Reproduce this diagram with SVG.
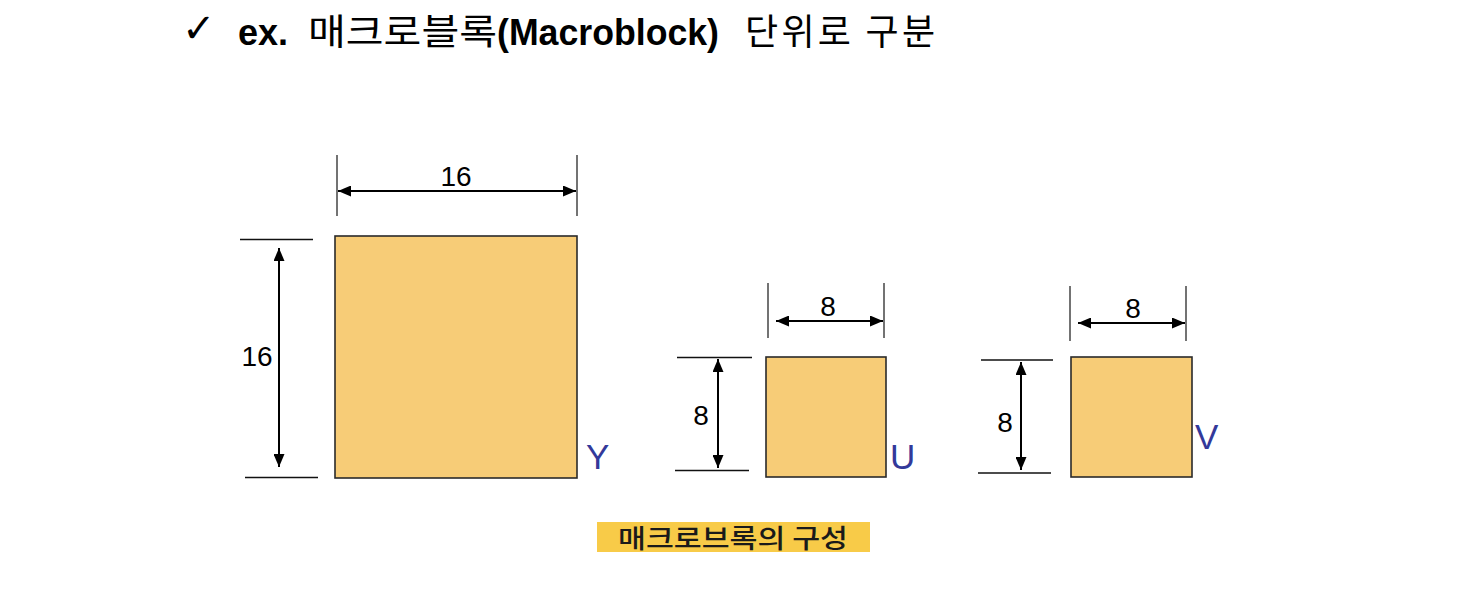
<svg xmlns="http://www.w3.org/2000/svg" width="1472" height="596" viewBox="0 0 1472 596">
<style>
.box{fill:#F7CC77;stroke:#2a2a2a;stroke-width:1.6}
.tick{stroke:#444;stroke-width:1.5;fill:none}
.ext{stroke:#111;stroke-width:1.3;fill:none}
.dim{stroke:#000;stroke-width:2;fill:none;marker-start:url(#ah);marker-end:url(#ah)}
.num{font-family:"Liberation Sans",Arial,sans-serif;font-size:28px;fill:#000;text-anchor:middle}
.lbl{font-family:"Liberation Sans",Arial,sans-serif;font-size:35px;fill:#33399A}
.ko{font-family:"Noto Sans CJK KR","Noto Sans",sans-serif}
</style>
<defs>
<marker id="ah" viewBox="0 0 13 11" refX="13" refY="5.5" markerWidth="13" markerHeight="11" markerUnits="userSpaceOnUse" orient="auto-start-reverse">
<path d="M0,0 L13,5.5 L0,11 z" fill="#000"/>
</marker>
</defs>
<rect width="1472" height="596" fill="#fff"/>

<g id="title">
<text x="182" y="42" font-family="DejaVu Sans,sans-serif" font-size="40" fill="#000">✓</text>
<text x="238" y="45" font-family="Liberation Sans,Arial,sans-serif" font-size="36" font-weight="bold" fill="#000">ex.</text>
<text x="308" y="45" class="ko" font-size="36" fill="#000" textLength="189" lengthAdjust="spacingAndGlyphs">매크로블록</text>
<text x="497" y="45" font-family="Liberation Sans,Arial,sans-serif" font-size="36" font-weight="bold" fill="#000" textLength="222" lengthAdjust="spacingAndGlyphs">(Macroblock)</text>
<text x="745" y="45" class="ko" font-size="36" fill="#000" textLength="190" lengthAdjust="spacing">단위로 구분</text>
</g>

<g id="block-Y">
<rect class="box" x="335" y="236" width="242" height="242"/>
<text class="lbl" x="586" y="469">Y</text>
</g>
<g id="block-U">
<rect class="box" x="766" y="357" width="120" height="120"/>
<text class="lbl" x="890" y="469">U</text>
</g>
<g id="block-V">
<rect class="box" x="1071" y="357" width="121" height="120"/>
<text class="lbl" x="1195" y="449">V</text>
</g>

<g id="connectors">
<line class="tick" x1="337" y1="155" x2="337" y2="216"/>
<line class="tick" x1="577" y1="155" x2="577" y2="216"/>
<line class="dim" x1="338" y1="191" x2="576" y2="191"/>
<line class="ext" x1="240" y1="239.5" x2="313" y2="239.5"/>
<line class="ext" x1="245" y1="477.5" x2="318" y2="477.5"/>
<line class="dim" x1="279" y1="248" x2="279" y2="467"/>
<line class="tick" x1="768" y1="283" x2="768" y2="338"/>
<line class="tick" x1="884" y1="283" x2="884" y2="338"/>
<line class="dim" x1="776" y1="321" x2="883" y2="321"/>
<line class="ext" x1="677" y1="357.5" x2="752" y2="357.5"/>
<line class="ext" x1="675" y1="470.5" x2="749" y2="470.5"/>
<line class="dim" x1="718" y1="359" x2="718" y2="468"/>
<line class="tick" x1="1070" y1="286" x2="1070" y2="341"/>
<line class="tick" x1="1186" y1="286" x2="1186" y2="341"/>
<line class="dim" x1="1078" y1="323" x2="1185" y2="323"/>
<line class="ext" x1="981" y1="360" x2="1053" y2="360"/>
<line class="ext" x1="978" y1="473" x2="1051" y2="473"/>
<line class="dim" x1="1021" y1="362" x2="1021" y2="470"/>
</g>

<g id="dim-labels">
<text class="num" x="456" y="186">16</text>
<text class="num" x="257" y="366">16</text>
<text class="num" x="828" y="316">8</text>
<text class="num" x="701" y="425">8</text>
<text class="num" x="1133" y="318">8</text>
<text class="num" x="1005" y="432">8</text>
</g>

<g id="caption">
<rect x="597" y="522" width="273" height="30" fill="#F8CB48"/>
<text x="618" y="548" class="ko" font-size="26" font-weight="500" fill="#1a1a1a" textLength="230" lengthAdjust="spacingAndGlyphs">매크로브록의 구성</text>
</g>
</svg>
